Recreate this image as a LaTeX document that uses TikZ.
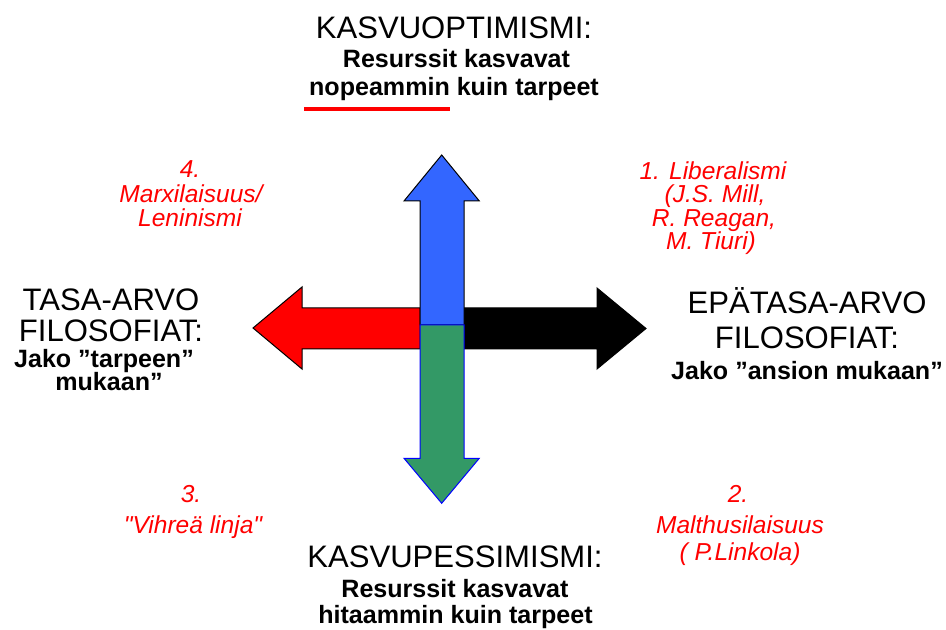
\documentclass[tikz,border=0pt]{standalone}
\usepackage{fontspec}
\setmainfont{Liberation Sans}
\definecolor{upblue}{HTML}{3366FF}
\definecolor{downgreen}{HTML}{339966}

\begin{document}
\begin{tikzpicture}[x=0.75pt,y=-0.75pt,
    heading/.style={anchor=base,inner sep=0pt,font=\fontsize{23.3}{28}\selectfont},
    subline/.style={anchor=base,inner sep=0pt,font=\bfseries\fontsize{18.8}{22}\selectfont},
    school/.style={anchor=base,inner sep=0pt,text=red,font=\itshape\fontsize{18.4}{22}\selectfont}]
    \useasboundingbox (0,0) rectangle (946,630);

    % draw horizontal arrows
    \filldraw[fill=red,draw=black,line width=0.75pt]
      (420,308) -- (302,308) -- (302,287) -- (253,328) -- (302,369) -- (302,349) -- (420,349) -- cycle;
    \filldraw[fill=black,draw=black,line width=0.75pt]
      (464,308) -- (597,308) -- (597,288) -- (646,328.5) -- (597,369) -- (597,349) -- (464,349) -- cycle;

    % draw vertical arrows
    \filldraw[fill=upblue,draw=black,line width=0.75pt]
      (420,325) -- (420,201) -- (404,201) -- (441.7,155) -- (479.3,201) -- (464,201) -- (464,325) -- cycle;
    \filldraw[fill=downgreen,draw=blue,line width=0.75pt]
      (420,325) -- (420,458.3) -- (404,458.3) -- (441.7,503.3) -- (479.3,458.3) -- (464,458.3) -- (464,325) -- cycle;

    % top
    \node[heading] (opt) at (454,39) {KASVUOPTIMISMI:};
    \node[subline] (opt1) at (456.5,68) {Resurssit kasvavat};
    \node[subline] (opt2) at (454,96) {nopeammin kuin tarpeet};
    \draw[red,line width=2.6pt] (304,109) -- (450,109);

    % bottom
    \node[heading] (pes) at (455,567) {KASVUPESSIMISMI:};
    \node[subline] (pes1) at (455,597) {Resurssit kasvavat};
    \node[subline] (pes2) at (455.5,623) {hitaammin kuin tarpeet};

    % left
    \node[heading] (tasa) at (111,311) {TASA-ARVO};
    \node[heading] (tasa1) at (111,342) {FILOSOFIAT:};
    \node[subline] (tasa2) at (104,368) {Jako ”tarpeen”};
    \node[subline] (tasa3) at (109,391) {mukaan”};

    % right
    \node[heading] (epa) at (807,314) {EPÄTASA-ARVO};
    \node[heading] (epa1) at (807,349) {FILOSOFIAT:};
    \node[subline] (epa2) at (807,380) {Jako ”ansion mukaan”};

    % red labels
    \node[school] (lib) at (713,180) {1. Liberalismi};
    \node[school] (lib1) at (715,203) {(J.S. Mill,};
    \node[school] (lib2) at (714,226.7) {R. Reagan,};
    \node[school] (lib3) at (711,250) {M. Tiuri)};

    \node[school] (mal) at (738,503) {2.};
    \node[school] (mal1) at (740,533) {Malthusilaisuus};
    \node[school] (mal2) at (740,561) {( P.Linkola)};

    \node[school] (vih) at (191,503) {3.};
    \node[school] (vih1) at (193,533) {\textquotedbl Vihreä linja\textquotedbl};

    \node[school] (mar) at (190,178) {4.};
    \node[school] (mar1) at (191,203) {Marxilaisuus/};
    \node[school] (mar2) at (190,227) {Leninismi};
\end{tikzpicture}
\end{document}
